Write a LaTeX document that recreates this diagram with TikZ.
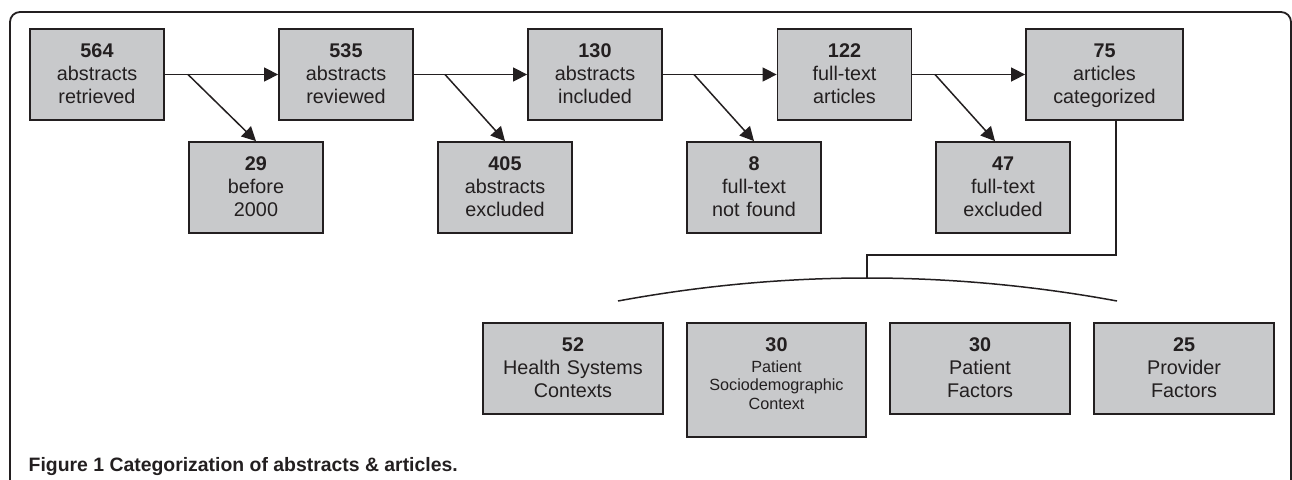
\documentclass[tikz,border=0pt]{standalone}
\usepackage{fontspec}
\setmainfont{Liberation Sans}
\usetikzlibrary{arrows.meta}
\definecolor{ink}{HTML}{231F20}
\definecolor{boxgray}{HTML}{C8C9CB}
\tikzset{
  box/.style={draw=ink, line width=1.8pt, fill=boxgray, text=ink, inner sep=0pt,
    text height=28pt, text depth=63pt, text width=#1, align=center,
    font=\fontsize{19.8}{22.8}\selectfont},
  box/.default=134pt,
  arr/.style={draw=ink, line width=1.5pt, -{Triangle[length=14pt,width=14pt]}},
  conn/.style={draw=ink, line width=1.5pt},
  frame/.style={draw=ink, line width=1.8pt, rounded corners=10pt},
  captext/.style={anchor=base west, inner sep=0pt, text=ink,
    font=\bfseries\fontsize{19.4}{23}\selectfont}
}
\begin{document}
\begin{tikzpicture}[x=1pt,y=-1pt]
\useasboundingbox (0,0) rectangle (1292,479);
\clip (0,0) rectangle (1292,479);
\draw[frame] (10,500) -- (10,12) -- (1291,12) -- (1291,500);

% top row
\node[box] (b564) at (97,74.5) {\textbf{564}\\[0.8pt]abstracts\\retrieved};
\node[box] (b535) at (346,74.5) {\textbf{535}\\[0.8pt]abstracts\\reviewed};
\node[box] (b130) at (595,74.5) {\textbf{130}\\[0.8pt]abstracts\\included};
\node[box] (b122) at (844.5,74.5) {\textbf{122}\\[0.8pt]full-text\\articles};
\node[box=157pt] (b75) at (1104.5,74.5) {\textbf{75}\\[0.8pt]articles\\categorized};

% excluded row
\node[box] (b29) at (256,187.5) {\textbf{29}\\[0.8pt]before\\2000};
\node[box] (b405) at (505,187.5) {\textbf{405}\\[0.8pt]abstracts\\excluded};
\node[box] (b8) at (754,187.5) {\textbf{8}\\[0.8pt]full-text\\not found};
\node[box] (b47) at (1003,187.5) {\textbf{47}\\[0.8pt]full-text\\excluded};

% categories
\node[box=180pt] (b52) at (573,368.5) {\textbf{52}\\[0.8pt]Health Systems\\Contexts};
\node[box=179pt, text depth=86pt] (bpsc) at (776.5,380) {\textbf{30}\\[2.3pt]{\fontsize{16.2}{18.7}\selectfont Patient\\Sociodemographic\\Context\par}};
\node[box=180pt] (bpf) at (980,368.5) {\textbf{30}\\[0.8pt]Patient\\Factors};
\node[box=180pt] (b25) at (1184,368.5) {\textbf{25}\\[0.8pt]Provider\\Factors};

% main flow
\draw[arr] (b564.east) -- (b535.west);
\draw[arr] (b535.east) -- (b130.west);
\draw[arr] (b130.east) -- (b122.west);
\draw[arr] (b122.east) -- (b75.west);

% branch points
\coordinate (j1) at (188,74.5);
\coordinate (j2) at (445,74.5);
\coordinate (j3) at (694,74.5);
\coordinate (j4) at (935,74.5);
\draw[arr] (j1) -- (b29.north);
\draw[arr] (j2) -- (b405.north);
\draw[arr] (j3) -- (b8.north);
\draw[arr] (j4) -- ([xshift=-8pt]b47.north);

% tree connector
\coordinate (t1) at (1116,255);
\coordinate (t2) at (867,255);
\coordinate (t3) at (867,278);
\coordinate (arcL) at (618,301);
\coordinate (arcR) at (1117,301);
\draw[conn] (b75.south -| t1) -- (t1) -- (t2) -- (t3);
\draw[conn] (arcL) .. controls (701,285.7) and (784,278) .. (t3)
  .. controls (950,278) and (1034,285.7) .. (arcR);

\node[captext] (caption) at (28.5,471) {Figure 1 Categorization of abstracts \& articles.};
\end{tikzpicture}
\end{document}
